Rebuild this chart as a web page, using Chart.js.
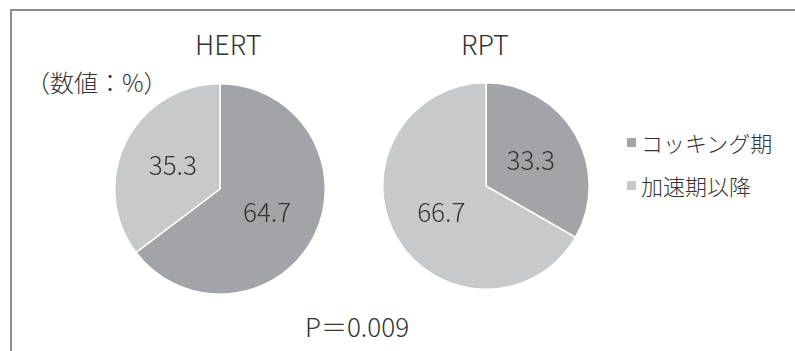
<!DOCTYPE html>
<html lang="ja">
<head>
    <meta charset="UTF-8">
    <title>HERT / RPT</title>
    <style>
        body {
            margin: 0;
            background: #fff;
            font-family: "Noto Sans CJK JP", "Noto Sans", sans-serif;
            color: #333;
        }
        .wrap {
            position: relative;
            width: 795px;
            height: 351px;
            overflow: hidden;
        }
        .frame {
            position: absolute;
            left: 10px;
            top: 9px;
            width: 800px;
            height: 400px;
            border-top: 2px solid #8c8c8c;
            border-left: 2px solid #8c8c8c;
        }
        .txt {
            position: absolute;
            white-space: nowrap;
            font-weight: 300;
            line-height: 1;
        }
        canvas {
            position: absolute;
        }
        .legend .sw {
            position: absolute;
            width: 9px;
            height: 9px;
        }
    </style>
    <script src="https://cdn.jsdelivr.net/npm/chart.js"></script>
</head>
<body>
<div class="wrap">
    <div class="frame"></div>
    <div class="txt" id="title0" style="left:195px; top:30px; font-size:27px;"></div>
    <div class="txt" id="title1" style="left:461px; top:30px; font-size:27px;"></div>
    <div class="txt" style="left:26px; top:70px; font-size:24px;">（数値：%）</div>
    <div class="txt" style="left:305px; top:313px; font-size:26px;">P＝0.009</div>

    <canvas id="pie0" width="212" height="212" style="left:114px; top:83px;"></canvas>
    <canvas id="pie1" width="208" height="208" style="left:382px; top:82px;"></canvas>

    <div class="legend" id="legend"></div>
</div>

<script>
    const categories = ['コッキング期', '加速期以降'];
    const groups = ['HERT', 'RPT'];
    const hertValues = [64.7, 35.3];
    const rptValues = [33.3, 66.7];

    const sliceColors = ['#a3a4a7', '#c8c9cb'];

    document.getElementById('title0').textContent = groups[0];
    document.getElementById('title1').textContent = groups[1];

    // legend on the right
    const legend = document.getElementById('legend');
    categories.forEach((name, i) => {
        const sw = document.createElement('div');
        sw.className = 'sw';
        sw.style.left = '627px';
        sw.style.top = (138 + i * 43) + 'px';
        sw.style.background = sliceColors[i];
        legend.appendChild(sw);
        const t = document.createElement('div');
        t.className = 'txt';
        t.style.left = '641px';
        t.style.top = (131 + i * 43) + 'px';
        t.style.fontSize = '22px';
        t.textContent = name;
        legend.appendChild(t);
    });

    // values written inside each slice
    const sliceLabels = {
        id: 'sliceLabels',
        afterDatasetsDraw(chart) {
            const ctx = chart.ctx;
            const data = chart.data.datasets[0].data;
            ctx.save();
            ctx.font = '300 26px "Noto Sans CJK JP", "Noto Sans", sans-serif';
            ctx.fillStyle = '#333';
            ctx.textAlign = 'center';
            ctx.textBaseline = 'middle';
            chart.getDatasetMeta(0).data.forEach((arc, i) => {
                const p = arc.tooltipPosition();
                ctx.fillText(data[i].toFixed(1), p.x, p.y);
            });
            ctx.restore();
        }
    };

    function makePie(id, values) {
        return new Chart(document.getElementById(id), {
            type: 'pie',
            data: {
                labels: categories,
                datasets: [{
                    data: values,
                    backgroundColor: sliceColors,
                    borderColor: '#ffffff',
                    borderWidth: 1.5
                }]
            },
            options: {
                responsive: false,
                animation: false,
                layout: { padding: 0 },
                plugins: {
                    legend: { display: false },
                    tooltip: { enabled: false }
                }
            },
            plugins: [sliceLabels]
        });
    }

    makePie('pie0', hertValues);
    makePie('pie1', rptValues);
</script>
</body>
</html>
